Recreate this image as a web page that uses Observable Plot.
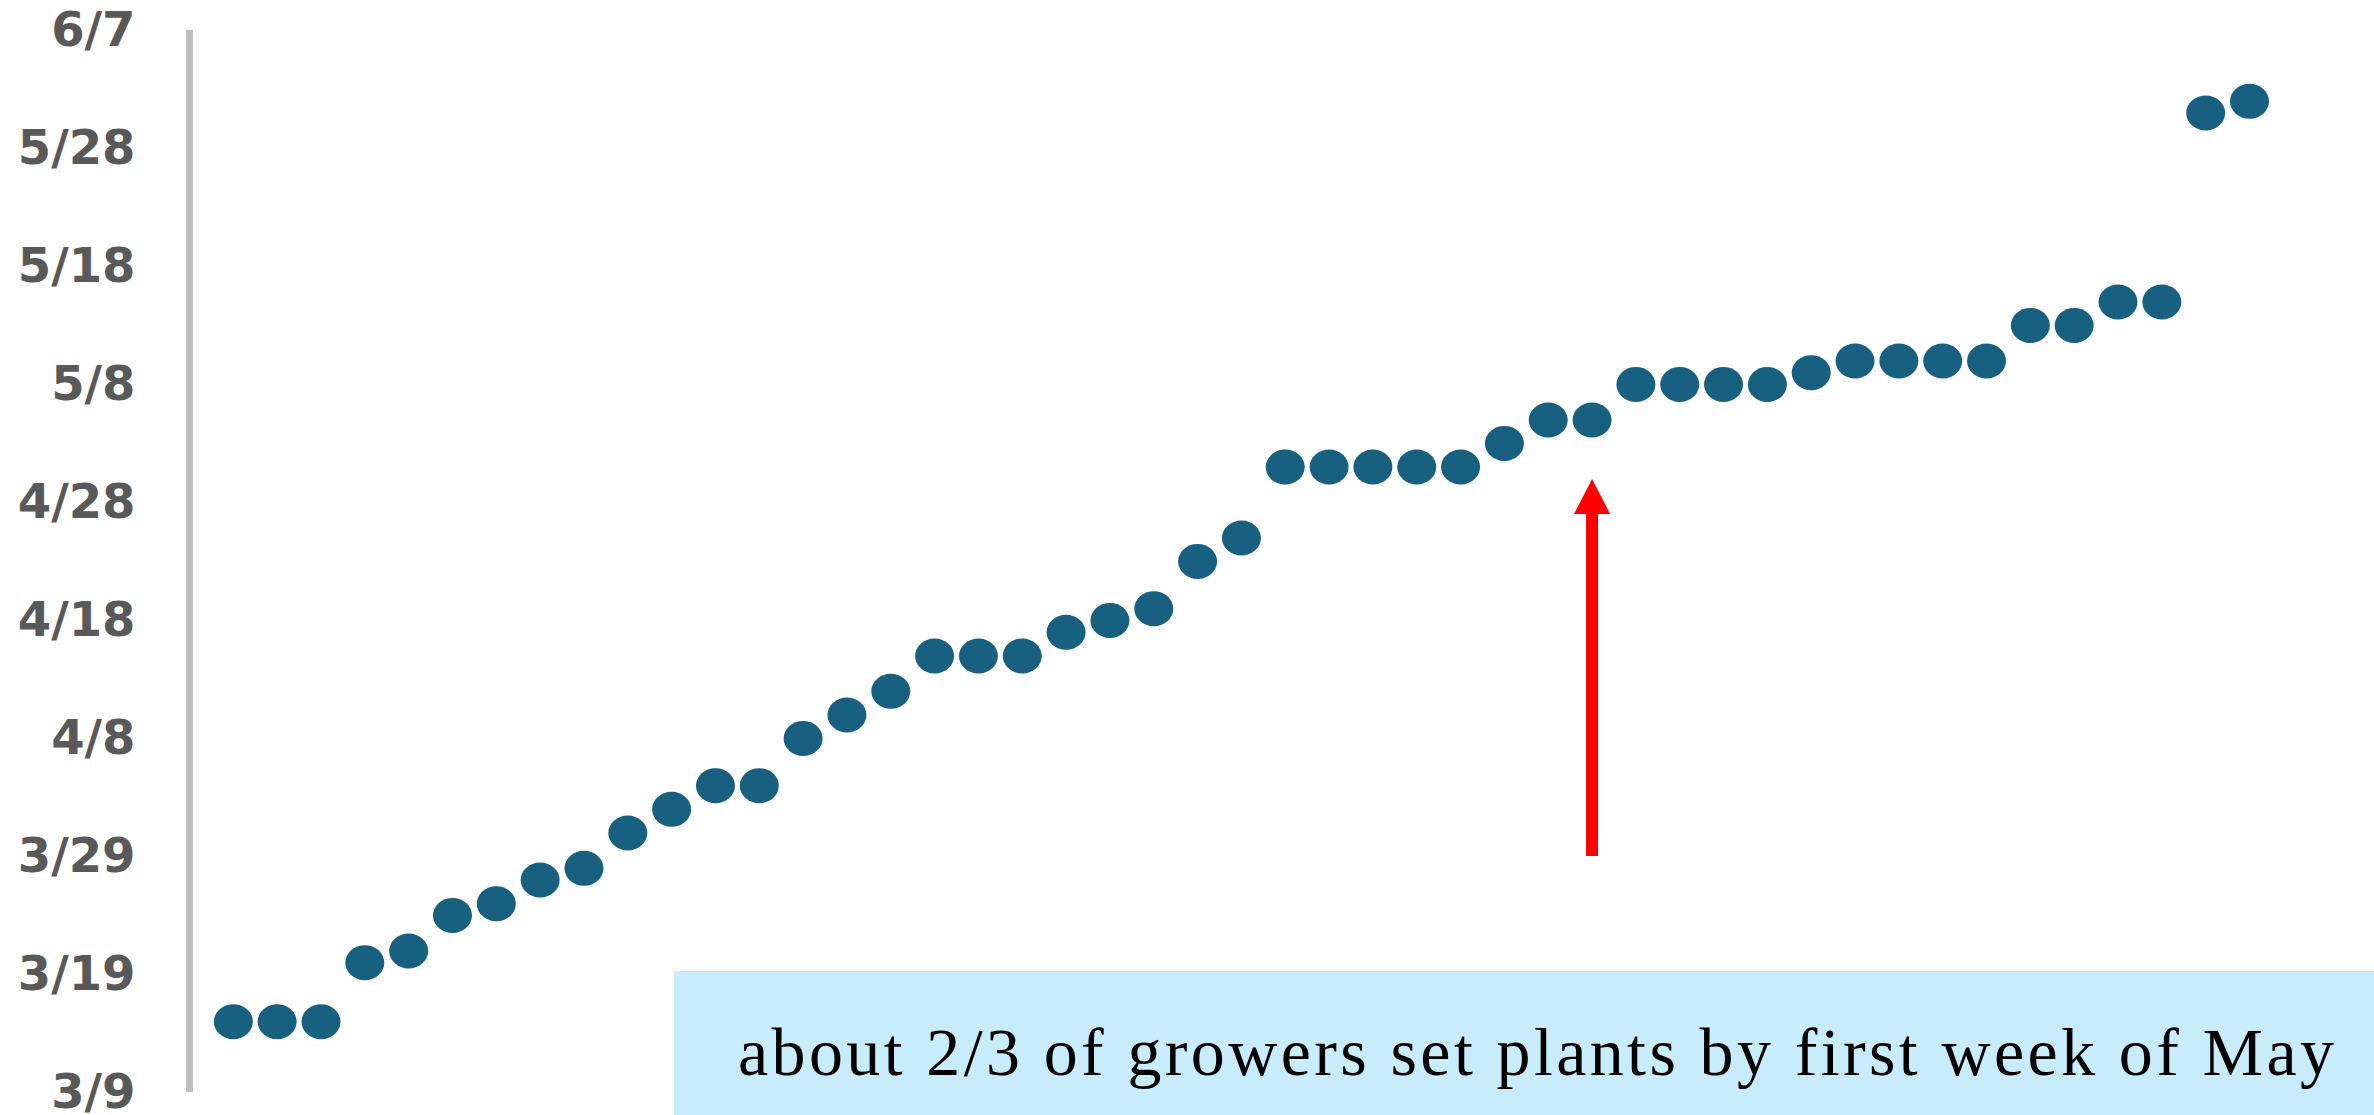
<!DOCTYPE html>
<html>
<head>
<meta charset="utf-8">
<script src="https://cdn.jsdelivr.net/npm/d3@7"></script>
<script src="https://cdn.jsdelivr.net/npm/@observablehq/plot@0.6"></script>
<style>
  html, body { margin: 0; padding: 0; background: #ffffff; }
  #wrap { position: relative; width: 2374px; height: 1115px; overflow: hidden; }
  #note { position: absolute; left: 674px; top: 971px; }
</style>
</head>
<body>
<div id="wrap"></div>
<script>
// Planting date reported by each grower, sorted from earliest to latest
const plantDates = [
  "2019-03-15", "2019-03-15", "2019-03-15", "2019-03-20", "2019-03-21",
  "2019-03-24", "2019-03-25", "2019-03-27", "2019-03-28", "2019-03-31",
  "2019-04-02", "2019-04-04", "2019-04-04", "2019-04-08", "2019-04-10",
  "2019-04-12", "2019-04-15", "2019-04-15", "2019-04-15", "2019-04-17",
  "2019-04-18", "2019-04-19", "2019-04-23", "2019-04-25", "2019-05-01",
  "2019-05-01", "2019-05-01", "2019-05-01", "2019-05-01", "2019-05-03",
  "2019-05-05", "2019-05-05", "2019-05-08", "2019-05-08", "2019-05-08",
  "2019-05-08", "2019-05-09", "2019-05-10", "2019-05-10", "2019-05-10",
  "2019-05-10", "2019-05-13", "2019-05-13", "2019-05-15", "2019-05-15",
  "2019-05-31", "2019-06-01"
];

// Date ticks on the vertical axis, every ten days
const tickDates = [
  "2019-03-09", "2019-03-19", "2019-03-29", "2019-04-08", "2019-04-18",
  "2019-04-28", "2019-05-08", "2019-05-18", "2019-05-28", "2019-06-07"
];

// Callout: arrow pointing at the grower who marks about two thirds of the group
const arrowGrower = 32;
const arrowTail = "2019-03-29";
const arrowHeadBase = "2019-04-27";
const arrowTip = "2019-04-30";
const noteText = "about 2/3 of growers set plants by first week of May";

const growers = plantDates.map((d, i) => ({rank: i + 1, date: new Date(d)}));
const ticks = tickDates.map((d) => new Date(d));
const fmt = d3.utcFormat("%-m/%-d");

// Slightly wide elliptical markers
const ellipse = {
  draw(ctx) {
    const rx = 19.5, ry = 17.5, k = 0.5523;
    ctx.moveTo(rx, 0);
    ctx.bezierCurveTo(rx, k * ry, k * rx, ry, 0, ry);
    ctx.bezierCurveTo(-k * rx, ry, -rx, k * ry, -rx, 0);
    ctx.bezierCurveTo(-rx, -k * ry, -k * rx, -ry, 0, -ry);
    ctx.bezierCurveTo(k * rx, -ry, rx, -k * ry, rx, 0);
    ctx.closePath();
  }
};

// Filled arrowhead whose tip sits on the anchor point
const arrowHead = {
  draw(ctx) {
    ctx.moveTo(0, 0);
    ctx.lineTo(18, 35);
    ctx.lineTo(-18, 35);
    ctx.closePath();
  }
};

const chart = Plot.plot({
  width: 2374,
  height: 1115,
  marginLeft: 189,
  marginRight: 125,
  marginTop: 30,
  marginBottom: 23,
  style: {fontFamily: "DejaVu Sans", background: "#ffffff", overflow: "visible"},
  x: {domain: [0, growers.length], axis: null},
  y: {type: "utc", domain: [ticks[0], ticks[ticks.length - 1]], axis: null},
  marks: [
    Plot.ruleX([{x: 0, y1: ticks[0], y2: ticks[ticks.length - 1]}], {
      x: "x", y1: "y1", y2: "y2", stroke: "#bfbfbf", strokeWidth: 7
    }),
    Plot.axisY(ticks, {
      anchor: "left",
      tickFormat: fmt,
      tickSize: 0,
      tickPadding: 54,
      fontSize: 48,
      fontWeight: "bold",
      color: "#595959",
      label: null
    }),
    Plot.dot(growers, {x: "rank", y: "date", r: 19, fill: "#176080", symbol: ellipse}),
    Plot.ruleX([{x: arrowGrower, y1: new Date(arrowTail), y2: new Date(arrowHeadBase)}], {
      x: "x", y1: "y1", y2: "y2", stroke: "#ff0000", strokeWidth: 12
    }),
    Plot.dot([{x: arrowGrower, y: new Date(arrowTip)}], {
      x: "x", y: "y", r: 18, fill: "#ff0000", symbol: arrowHead
    })
  ]
});

const wrap = document.getElementById("wrap");
wrap.appendChild(chart);

// Light blue callout box in the lower right corner
const ns = "http://www.w3.org/2000/svg";
const note = document.createElementNS(ns, "svg");
note.setAttribute("id", "note");
note.setAttribute("width", 1700);
note.setAttribute("height", 144);
const box = document.createElementNS(ns, "rect");
box.setAttribute("width", 1700);
box.setAttribute("height", 144);
box.setAttribute("fill", "#c9ecfa");
note.appendChild(box);
const label = document.createElementNS(ns, "text");
label.setAttribute("x", 64);
label.setAttribute("y", 104);
label.setAttribute("font-family", "Liberation Serif, Times New Roman, serif");
label.setAttribute("font-size", 68);
label.setAttribute("fill", "#000000");
label.setAttribute("textLength", 1596);
label.setAttribute("lengthAdjust", "spacing");
label.textContent = noteText;
note.appendChild(label);
wrap.appendChild(note);
</script>
</body>
</html>
